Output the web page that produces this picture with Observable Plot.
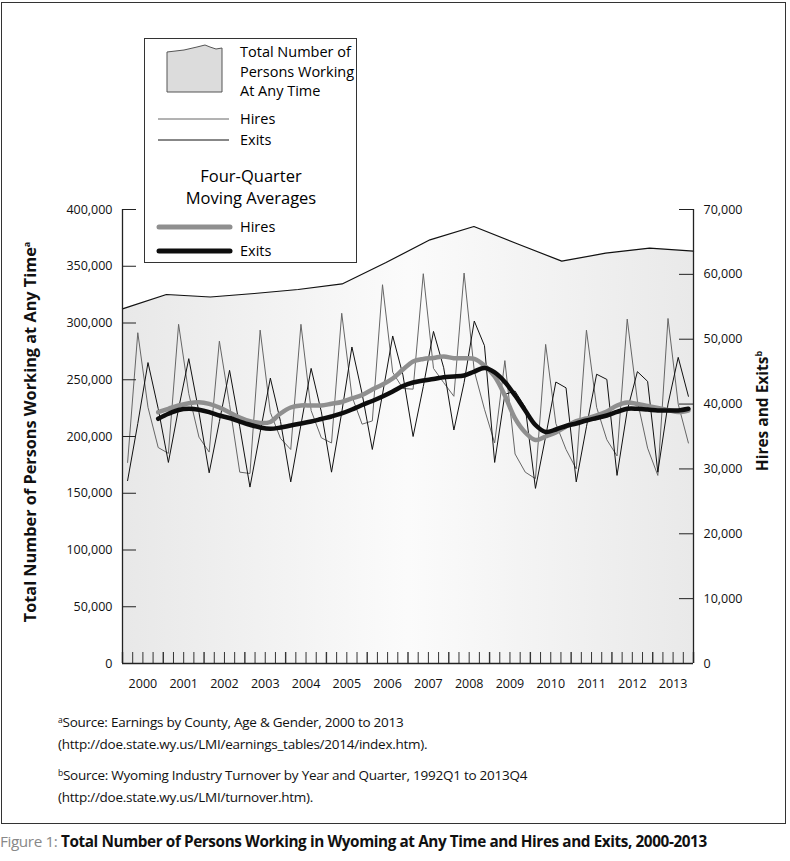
<!DOCTYPE html>
<html><head><meta charset="utf-8">
<script src="https://cdn.jsdelivr.net/npm/d3@7"></script>
<script src="https://cdn.jsdelivr.net/npm/@observablehq/plot@0.6"></script>
<style>
body{margin:0;background:#fff;font-family:"Open Sans",sans-serif;color:#111;}
#wrap{position:relative;width:790px;height:861px;overflow:hidden;background:#fff;}
#frame{position:absolute;left:1px;top:2px;width:785px;height:822px;border:1px solid #333;box-sizing:border-box;}
#chart{position:absolute;left:0;top:0;}
#legend{position:absolute;left:144px;top:38px;}
.ytitle{position:absolute;white-space:nowrap;font-weight:700;transform:translate(-50%,-50%) rotate(-90deg);}
.ytitle sup{font-size:9px;}
.note{position:absolute;left:58px;font-size:13.5px;letter-spacing:-0.25px;white-space:nowrap;}
.note sup{font-size:8.5px;vertical-align:4px;}
#caption{position:absolute;left:0;top:831px;font-size:15.3px;letter-spacing:-0.4px;white-space:nowrap;}
</style></head>
<body>
<div id="wrap">
  <div id="frame"></div>
  <div id="chart"></div>
  <div class="ytitle" style="left:30px;top:432px;font-size:16.3px;">Total Number of Persons Working at Any Time<sup>a</sup></div>
  <div class="ytitle" style="left:762px;top:411px;font-size:15.5px;">Hires and Exits<sup>b</sup></div>
  <svg id="legend" width="214" height="226" xmlns="http://www.w3.org/2000/svg" font-family="Open Sans, sans-serif">
    <rect x="0.5" y="0.5" width="212" height="224" fill="#fff" stroke="#333"/>
    <path d="M23,54 L23,14 L40,12 L53,9 L61,7 L66,9 L72,11 L78,10 L78,54 Z" fill="#dcdcdc" stroke="#555"/>
    <text x="96" y="19" font-size="14.5">Total Number of</text>
    <text x="96" y="39" font-size="14.5">Persons Working</text>
    <text x="96" y="58" font-size="14.5">At Any Time</text>
    <line x1="14" x2="85" y1="81" y2="81" stroke="#666" stroke-width="1"/>
    <text x="96" y="86" font-size="14.5">Hires</text>
    <line x1="14" x2="85" y1="102" y2="102" stroke="#111" stroke-width="1"/>
    <text x="96" y="107" font-size="14.5">Exits</text>
    <text x="107" y="144" font-size="16.5" text-anchor="middle">Four-Quarter</text>
    <text x="107" y="166" font-size="16.5" text-anchor="middle">Moving Averages</text>
    <line x1="15" x2="86" y1="189" y2="189" stroke="#8f8f8f" stroke-width="5" stroke-linecap="round"/>
    <text x="96" y="194" font-size="14.5">Hires</text>
    <line x1="15" x2="86" y1="213" y2="213" stroke="#0d0d0d" stroke-width="5" stroke-linecap="round"/>
    <text x="96" y="218" font-size="14.5">Exits</text>
  </svg>
  <div class="note" style="top:713px;"><sup>a</sup>Source: Earnings by County, Age &amp; Gender, 2000 to 2013</div>
  <div class="note" style="top:735px;">(http://doe.state.wy.us/LMI/earnings_tables/2014/index.htm).</div>
  <div class="note" style="top:766px;"><sup>b</sup>Source: Wyoming Industry Turnover by Year and Quarter, 1992Q1 to 2013Q4</div>
  <div class="note" style="top:788px;">(http://doe.state.wy.us/LMI/turnover.htm).</div>
  <div id="caption"><span style="color:#888;">Figure 1:</span> <b>Total Number of Persons Working in Wyoming at Any Time and Hires and Exits, 2000-2013</b></div>
</div>
<script>
// ---- data ----
const years = [2000,2001,2002,2003,2004,2005,2006,2007,2008,2009,2010,2011,2012,2013];
const quarters = ["Q1","Q2","Q3","Q4"];
// Total number of persons working at any time (annual, left axis)
const totalWorking = [312500,325100,322900,326000,329500,334400,353300,373300,385000,369600,354500,361500,365900,363300];
// Quarterly hires (right axis), 2000Q1..2013Q4
const hires = [
  31000,51000,39500,33300,
  32400,52300,41600,34900,
  32600,49700,39900,29500,
  29300,51400,38700,34700,
  33000,52300,39000,34800,
  34000,54000,41200,36900,
  37400,58400,44900,42400,
  42300,60100,45500,43300,
  41200,60200,45100,39200,
  34000,46700,32300,29500,
  28500,49200,37000,33000,
  30000,51400,39500,34500,
  32000,53100,40500,33200,
  29000,53200,40000,34000
];
// Quarterly exits (right axis)
const exits = [
  28200,37000,46400,39300,
  31000,39300,47000,38700,
  29400,37300,45200,36500,
  27200,35600,44000,37300,
  28000,36800,45500,38800,
  29500,38700,48800,41600,
  33000,41500,50500,44500,
  35000,42700,51200,45600,
  36000,43300,52800,49000,
  31000,41500,42000,39500,
  27000,35000,43400,42500,
  28000,36500,44600,43800,
  29000,39000,45000,43500,
  29500,40000,47200,41200
];
// Four-quarter moving averages, 2000Q4..2013Q4
const hiresMA = [38750,39270,39780,40140,40290,40040,39470,38700,37930,37360,37080,37240,38550,39470,39780,39780,39780,40040,40320,40860,41400,42250,43020,43940,45330,46570,46950,47110,47340,47070,47070,46980,45950,44250,41320,37780,35620,34460,35000,35620,36540,37390,37780,38240,38860,39780,40240,40010,39700,39400,39090,38780,39010];
const exitsMA = [37730,38500,39090,39270,39120,38750,38240,37850,37310,36810,36390,36190,36390,36700,37010,37310,37700,38090,38550,39160,39860,40480,41170,41940,42790,43330,43640,43870,44150,44250,44410,45020,45560,44870,43400,41320,39010,36770,35700,36080,36620,37010,37470,37850,38240,38780,39270,39270,39160,39010,39010,39010,39270];
const leftTicks = [0,50000,100000,150000,200000,250000,300000,350000,400000];
const rightTicks = [0,10000,20000,30000,40000,50000,60000,70000];

// ---- build ----
const K = 400000/70000; // right-axis to left-axis units
const nQ = years.length*quarters.length;
const qData = hires.map((h,i)=>({q: years[Math.floor(i/4)]+quarters[i%4], x:i+0.5, hires:h*K, exits:exits[i]*K}));
const maOffset = nQ - hiresMA.length;
const hmaData = hiresMA.map((v,j)=>({x:j+maOffset+0.5, v:v*K}));
const emaData = exitsMA.map((v,j)=>({x:j+maOffset+0.5, v:v*K}));
const areaData = totalWorking.map((v,k)=>({year:years[k], x:k*nQ/(years.length-1), v}));
const fmt = d3.format(",");
const tickLenX = 14/ (571/nQ);
const tickLenY = 11*400000/454;

const svg = Plot.plot({
  width: 790, height: 700,
  marginLeft: 122, marginRight: 97, marginTop: 209, marginBottom: 37,
  x: {type:"linear", domain:[0,nQ], axis:null},
  y: {type:"linear", domain:[0,400000], axis:null},
  style: {fontFamily:"Open Sans, sans-serif", fontSize:"12.5px", color:"#111", background:"transparent", overflow:"visible"},
  marks: [
    Plot.areaY(areaData, {x:"x", y:"v", fill:"url(#areaGrad)"}),
    Plot.lineY(areaData, {x:"x", y:"v", stroke:"#111", strokeWidth:1.2}),
    Plot.lineY(qData, {x:"x", y:"hires", stroke:"#666", strokeWidth:1}),
    Plot.lineY(qData, {x:"x", y:"exits", stroke:"#111", strokeWidth:1}),
    Plot.lineY(hmaData, {x:"x", y:"v", stroke:"#8f8f8f", strokeWidth:4.5, curve:"catmull-rom"}),
    Plot.lineY(emaData, {x:"x", y:"v", stroke:"#0d0d0d", strokeWidth:4.5, curve:"catmull-rom"}),
    Plot.ruleX(d3.range(nQ+1), {x:d=>d, y1:0, y2:tickLenY, stroke:"#333", strokeWidth:d=>d%4===0?1.4:1}),
    Plot.ruleX([0, nQ], {stroke:"#222", strokeWidth:1.3}),
    Plot.ruleY([0], {stroke:"#222", strokeWidth:1.3}),
    Plot.ruleY(leftTicks, {y:d=>d, x1:0, x2:tickLenX, stroke:"#222"}),
    Plot.text(leftTicks, {x:0, y:d=>d, text:d=>fmt(d), textAnchor:"end", dx:-10, fill:"#111"}),
    Plot.ruleY(rightTicks, {y:d=>d*K, x1:nQ-tickLenX, x2:nQ, stroke:"#222"}),
    Plot.text(rightTicks, {x:nQ, y:d=>d*K, text:d=>fmt(d), textAnchor:"start", dx:10, fill:"#111"}),
    Plot.text(years, {x:(d,i)=>i*4+2, y:0, dy:20, text:d=>String(d), fill:"#111"})
  ]
});
const ns = "http://www.w3.org/2000/svg";
const defs = document.createElementNS(ns, "defs");
defs.innerHTML = '<linearGradient id="areaGrad" x1="0" x2="1" y1="0" y2="0">' +
  '<stop offset="0" stop-color="#e8e8e8"/><stop offset="0.5" stop-color="#fbfbfb"/><stop offset="1" stop-color="#e9e9e9"/></linearGradient>';
svg.insertBefore(defs, svg.firstChild);
document.getElementById("chart").appendChild(svg);
</script>
</body></html>
